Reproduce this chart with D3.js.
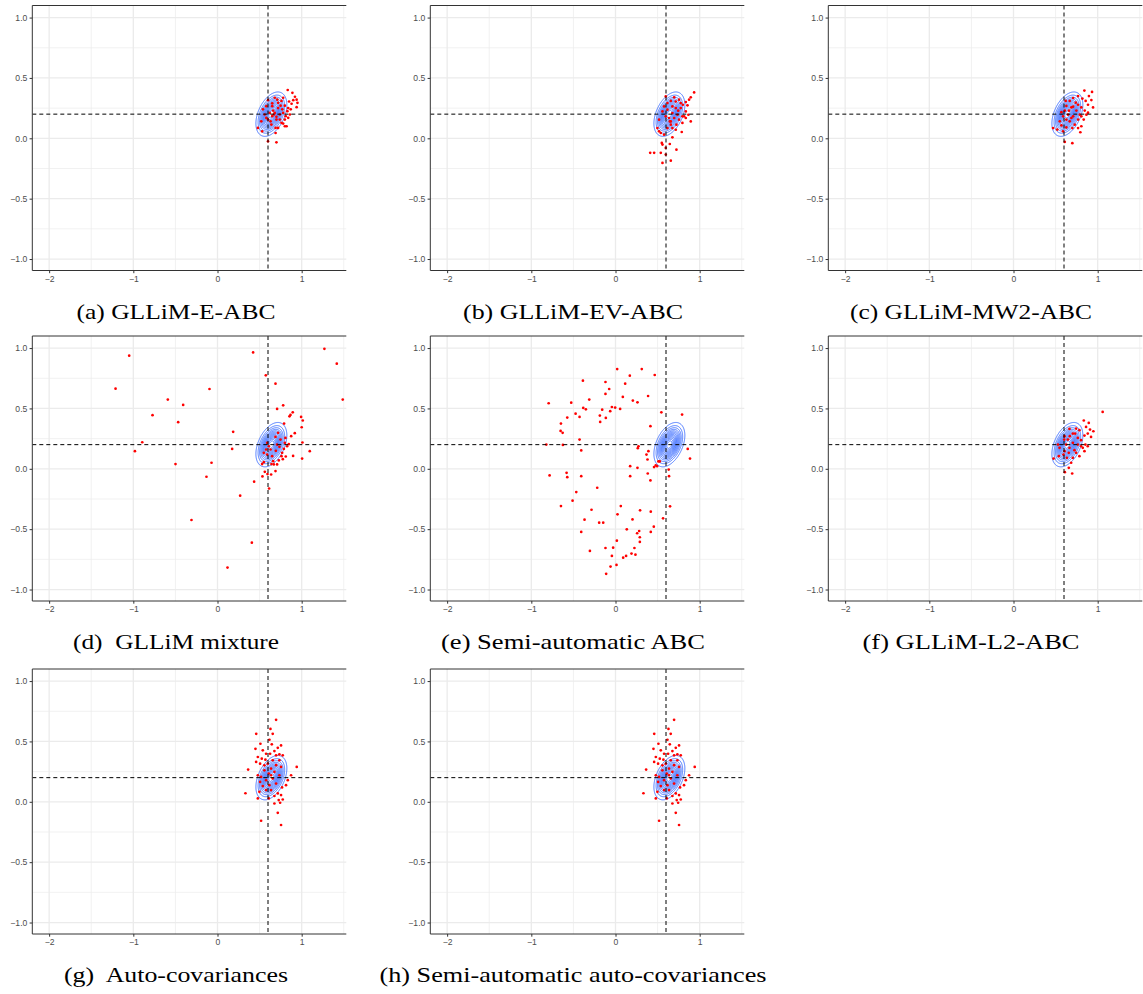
<!DOCTYPE html>
<html lang="en">
<head>
<meta charset="UTF-8">
<title>ABC posterior samples</title>
<script src="https://d3js.org/d3.v7.min.js"></script>
<style>
  body { margin: 0; background: #fff; }
  .tick text { font-family: "Liberation Sans", Arial, sans-serif; font-size: 8.6px; fill: #4d4d4d; }
  .tick line { stroke: #333; }
  .caption { font-family: "Liberation Serif", "Times New Roman", serif; font-size: 21px; fill: #000; white-space: pre; }
</style>
</head>
<body>
<div id="chart"></div>
<script>
// axis ranges and ticks
const xDomain = [-2.2, 1.53];
const yDomain = [-1.095, 1.1];
const xTicks = [-2, -1, 0, 1];
const xMinor = [-1.5, -0.5, 0.5, 1.5];
const yTicks = [-1, -0.5, 0, 0.5, 1];
const yMinor = [-0.75, -0.25, 0.25, 0.75];

// true parameter value (dashed lines)
const trueX = 0.6;
const trueY = 0.2;

// true posterior (gaussian) used for the blue contours
const postMean = [0.64, 0.2];
const postSd = [0.08, 0.08];
const postRho = 0.42;
const contourLevels = 13;

const captions = [
  "(a) GLLiM-E-ABC", "(b) GLLiM-EV-ABC", "(c) GLLiM-MW2-ABC",
  "(d)  GLLiM mixture", "(e) Semi-automatic ABC", "(f) GLLiM-L2-ABC",
  "(g)  Auto-covariances", "(h) Semi-automatic auto-covariances"
];

// accepted samples
const pointsA = [[0.834,0.40],[0.89,0.377],[0.92,0.344],[0.94,0.32],[0.90,0.316],[0.95,0.294],[0.88,0.286],[0.94,0.258],
  [0.85,0.305],[0.78,0.336],[0.68,0.336],[0.60,0.316],[0.72,0.294],[0.80,0.27],[0.77,0.24],[0.83,0.225],[0.86,0.197],
  [0.81,0.183],[0.80,0.155],[0.82,0.10],[0.76,0.128],[0.70,0.155],[0.72,0.086],[0.69,0.044],[0.69,0.086],[0.64,0.114],
  [0.60,0.155],[0.56,0.197],[0.54,0.24],[0.58,0.266],[0.65,0.266],[0.68,0.21],[0.74,0.197],[0.65,0.183],[0.63,0.141],
  [0.58,0.169],[0.52,0.141],[0.48,0.086],[0.53,0.058],[0.60,-0.025],[0.70,-0.033],[0.66,0.23],[0.72,0.25],[0.75,0.27],
  [0.84,0.25],[0.87,0.24],[0.78,0.21],[0.70,0.178],[0.67,0.197],[0.74,0.155],[0.78,0.122],[0.84,0.17],[0.62,0.21],
  [0.76,0.31],[0.71,0.32],[0.80,0.10],[0.65,0.29]];

const pointsB = [[0.934,0.38],[0.894,0.339],[0.874,0.32],[0.835,0.30],[0.855,0.273],[0.80,0.278],[0.755,0.32],[0.775,0.25],
  [0.835,0.223],[0.866,0.195],[0.815,0.182],[0.894,0.14],[0.795,0.127],[0.755,0.154],[0.724,0.113],[0.787,0.052],
  [0.716,0.071],[0.676,0.085],[0.657,0.14],[0.597,0.182],[0.558,0.223],[0.577,0.264],[0.617,0.292],[0.657,0.31],
  [0.697,0.339],[0.597,0.347],[0.716,0.25],[0.676,0.209],[0.736,0.195],[0.697,0.168],[0.637,0.168],[0.518,0.154],
  [0.498,0.085],[0.518,0.058],[0.538,0.044],[0.577,0.030],[0.676,0.008],[0.558,-0.052],[0.55,-0.038],[0.645,-0.047],
  [0.597,-0.08],[0.724,-0.094],[0.459,-0.12],[0.412,-0.12],[0.538,-0.12],[0.597,-0.135],[0.657,-0.185],[0.558,-0.204],
  [0.645,0.14],[0.676,0.264],[0.745,0.229],[0.617,0.237],[0.775,0.292],[0.716,0.305],[0.795,0.182],[0.657,0.113],
  [0.617,0.085],[0.835,0.168]];

const pointsC = [[0.842,0.395],[0.933,0.384],[0.896,0.35],[0.857,0.31],[0.925,0.317],[0.945,0.256],[0.885,0.278],
  [0.818,0.329],[0.767,0.35],[0.708,0.334],[0.668,0.31],[0.739,0.295],[0.806,0.256],[0.846,0.23],[0.866,0.196],
  [0.806,0.182],[0.747,0.23],[0.688,0.256],[0.628,0.268],[0.609,0.229],[0.648,0.196],[0.708,0.182],[0.767,0.155],
  [0.806,0.1],[0.727,0.113],[0.668,0.141],[0.628,0.155],[0.589,0.182],[0.55,0.141],[0.569,0.107],[0.628,0.09],
  [0.699,0.085],[0.767,0.085],[0.794,0.05],[0.609,-0.03],[0.699,-0.04],[0.47,0.085],[0.52,0.072],[0.589,0.058],
  [0.659,0.229],[0.708,0.262],[0.767,0.278],[0.62,0.31],[0.787,0.196],[0.834,0.155],[0.885,0.212],[0.688,0.168],
  [0.569,0.216]];

const pointsD = [[-1.049,0.937],[-1.211,0.664],[1.27,0.994],[1.417,0.871],[1.488,0.573],[0.423,0.964],[0.574,0.774],
  [0.689,0.705],[-0.095,0.661],[-0.59,0.573],[-0.408,0.529],[-0.772,0.444],[-0.467,0.386],[0.708,0.496],[0.78,0.526],
  [-0.894,0.22],[-0.981,0.146],[0.186,0.306],[0.174,0.165],[-0.499,0.039],[-0.071,0.05],[-0.131,-0.066],[0.435,-0.107],
  [0.534,-0.063],[0.613,-0.163],[0.269,-0.223],[-0.309,-0.424],[0.408,-0.612],[0.119,-0.818],[0.894,0.468],[0.867,0.446],
  [0.855,0.435],[0.993,0.43],[1.013,0.40],[1.0,0.344],[0.791,0.375],[0.918,0.295],[0.875,0.27],[1.009,0.218],
  [1.096,0.146],[1.005,0.085],[0.898,0.107],[0.811,0.102],[0.776,0.08],[0.728,0.069],[0.669,0.036],[0.708,0.036],
  [0.641,0.039],[0.562,-0.025],[0.689,-0.019],[0.637,-0.047],[0.594,-0.044],[0.53,0.039],[0.55,0.055],[0.693,0.149],
  [0.768,0.132],[0.827,0.187],[0.847,0.204],[0.807,0.256],[0.748,0.242],[0.72,0.298],[0.689,0.264],[0.59,0.215],
  [0.61,0.187],[0.578,0.16],[0.649,0.105],[0.59,0.118],[0.736,0.182],[0.788,0.165],[0.76,0.105],[0.661,0.063],
  [0.55,0.132],[0.63,0.16],[0.708,0.201],[0.8,0.215]];

const pointsE = [[-0.794,0.543],[-0.822,0.201],[-0.783,-0.055],[-0.648,0.375],[-0.652,0.314],[-0.628,0.298],[-0.625,0.198],
  [-0.648,-0.309],[-0.573,0.424],[-0.581,-0.033],[-0.573,-0.069],[-0.526,0.548],[-0.474,0.457],[-0.466,-0.193],
  [-0.51,-0.264],[-0.427,0.43],[-0.427,0.242],[-0.407,0.152],[-0.407,-0.061],[-0.407,-0.523],[-0.387,0.73],
  [-0.383,0.504],[-0.352,0.493],[-0.368,-0.421],[-0.312,0.573],[-0.304,-0.68],[-0.285,-0.339],[-0.217,-0.157],
  [-0.194,-0.446],[-0.186,0.441],[-0.182,0.388],[-0.158,0.49],[-0.146,-0.446],[-0.119,0.62],[-0.119,0.719],
  [-0.115,0.421],[-0.119,-0.656],[-0.111,-0.87],[-0.075,0.661],[-0.063,0.477],[-0.059,-0.81],[-0.043,0.512],
  [-0.043,-0.722],[-0.028,-0.653],[-0.004,0.507],[0.012,-0.796],[0.016,-0.595],[0.02,0.826],[0.024,-0.377],
  [0.055,0.496],[0.063,-0.309],[0.087,0.595],[0.091,-0.736],[0.115,0.705],[0.126,-0.722],[0.134,-0.501],[0.17,0.771],
  [0.174,0.022],[0.174,-0.061],[0.19,-0.702],[0.202,-0.419],[0.206,0.565],[0.225,-0.656],[0.237,-0.711],[0.261,0.551],
  [0.261,0.008],[0.257,-0.534],[0.265,0.171],[0.273,0.187],[0.281,-0.515],[0.289,-0.567],[0.289,-0.606],[0.292,-0.344],
  [0.312,0.826],[0.368,0.118],[0.38,0.077],[0.383,-0.039],[0.387,0.603],[0.391,0.146],[0.415,0.353],[0.415,-0.096],
  [0.419,-0.523],[0.419,-0.355],[0.455,-0.479],[0.466,0.777],[0.458,0.014],[0.478,0.028],[0.494,0.022],[0.51,0.061],
  [0.526,0.061],[0.545,0.468],[0.565,-0.41],[0.632,-0.006],[0.636,-0.061],[0.648,-0.311],[0.791,0.449],[0.858,0.165],
  [0.885,0.085]];

const pointsF = [[1.059,0.471],[0.835,0.40],[0.894,0.38],[0.862,0.347],[0.909,0.325],[0.949,0.311],[0.882,0.292],
  [0.921,0.264],[0.843,0.275],[0.783,0.32],[0.744,0.333],[0.665,0.33],[0.705,0.292],[0.764,0.256],[0.803,0.237],
  [0.854,0.201],[0.882,0.187],[0.823,0.174],[0.764,0.201],[0.705,0.215],[0.646,0.242],[0.606,0.27],[0.626,0.201],
  [0.665,0.174],[0.724,0.154],[0.783,0.105],[0.705,0.091],[0.685,0.05],[0.657,0.008],[0.61,-0.028],[0.697,-0.039],
  [0.657,0.132],[0.606,0.146],[0.547,0.174],[0.528,0.201],[0.476,0.085],[0.539,0.105],[0.594,0.118],[0.744,0.132],
  [0.803,0.187],[0.669,0.27],[0.732,0.292],[0.602,0.242],[0.843,0.146],[0.634,0.091]];

const pointsG = [[0.696,0.679],[0.629,0.604],[0.656,0.563],[0.46,0.563],[0.617,0.514],[0.645,0.476],[0.51,0.481],
  [0.755,0.467],[0.716,0.447],[0.451,0.439],[0.538,0.426],[0.676,0.42],[0.577,0.398],[0.735,0.393],[0.625,0.398],
  [0.696,0.385],[0.479,0.371],[0.526,0.357],[0.775,0.385],[0.459,0.33],[0.506,0.316],[0.569,0.349],[0.656,0.344],
  [0.735,0.344],[0.597,0.316],[0.696,0.303],[0.755,0.289],[0.636,0.275],[0.941,0.289],[0.364,0.267],[0.557,0.261],
  [0.676,0.248],[0.609,0.234],[0.479,0.22],[0.518,0.206],[0.735,0.22],[0.874,0.22],[0.835,0.179],[0.656,0.193],
  [0.577,0.179],[0.506,0.165],[0.696,0.151],[0.617,0.138],[0.538,0.13],[0.814,0.138],[0.767,0.119],[0.636,0.097],
  [0.577,0.097],[0.332,0.071],[0.498,0.083],[0.716,0.069],[0.676,0.048],[0.755,0.056],[0.609,0.028],[0.479,0.028],
  [0.727,0.014],[0.775,0.019],[0.744,-0.008],[0.676,-0.014],[0.716,-0.091],[0.518,-0.157],[0.755,-0.192],
  [0.636,0.22],[0.557,0.302]];

// (h) shows the same sample as (g)
const pointsH = pointsG;

const panelPoints = [pointsA, pointsB, pointsC, pointsD, pointsE, pointsF, pointsG, pointsH];

// layout
const W = 1143, H = 994;
const colLeft = [32.3, 430.3, 828.3];
const rowTop = [5.5, 336, 669];
const plotW = 314, plotH = 265;
const capX = [176, 573, 971];
const capDy = 48;
const capWidths = [199, 220, 242, 206, 264, 217, 224, 387];

const svg = d3.select("#chart").append("svg")
  .attr("width", W).attr("height", H);

const x = d3.scaleLinear().domain(xDomain).range([0, plotW]);
const y = d3.scaleLinear().domain(yDomain).range([plotH, 0]);

// density grid for the contours
const step = 0.004, gx0 = 0.2, gy0 = -0.25, n = 225, m = 225;
const dens = new Array(n * m);
const r2 = 1 - postRho * postRho;
for (let j = 0; j < m; j++) {
  for (let i = 0; i < n; i++) {
    const u = (gx0 + i * step - postMean[0]) / postSd[0];
    const v = (gy0 + j * step - postMean[1]) / postSd[1];
    dens[i + j * n] = Math.exp(-(u * u - 2 * postRho * u * v + v * v) / (2 * r2));
  }
}
const thresholds = d3.range(1, contourLevels + 1).map(k => k / (contourLevels + 1));
const contours = d3.contours().size([n, m]).thresholds(thresholds)(dens);
const contourPath = d3.geoPath(d3.geoTransform({
  point(px, py) {
    this.stream.point(x(gx0 + (px - 0.5) * step), y(gy0 + (py - 0.5) * step));
  }
}));

const fmtY = d => d3.format(".1f")(d).replace("-", "\u2212");
const fmtX = d => d3.format("d")(d).replace("-", "\u2212");

panelPoints.forEach((pts, k) => {
  const col = k % 3, row = Math.floor(k / 3);
  const g = svg.append("g")
    .attr("transform", `translate(${colLeft[col]},${rowTop[row]})`);

  g.append("clipPath").attr("id", "clip" + k)
    .append("rect").attr("width", plotW).attr("height", plotH);

  // grid
  const grid = g.append("g");
  grid.selectAll(".vmin").data(xMinor).enter().append("line")
    .attr("x1", d => x(d)).attr("x2", d => x(d)).attr("y1", 0).attr("y2", plotH)
    .attr("stroke", "#ebebeb").attr("stroke-width", 0.7);
  grid.selectAll(".hmin").data(yMinor).enter().append("line")
    .attr("x1", 0).attr("x2", plotW).attr("y1", d => y(d)).attr("y2", d => y(d))
    .attr("stroke", "#ebebeb").attr("stroke-width", 0.7);
  grid.selectAll(".vmaj").data(xTicks).enter().append("line")
    .attr("x1", d => x(d)).attr("x2", d => x(d)).attr("y1", 0).attr("y2", plotH)
    .attr("stroke", "#ebebeb").attr("stroke-width", 1.3);
  grid.selectAll(".hmaj").data(yTicks).enter().append("line")
    .attr("x1", 0).attr("x2", plotW).attr("y1", d => y(d)).attr("y2", d => y(d))
    .attr("stroke", "#ebebeb").attr("stroke-width", 1.3);

  const inner = g.append("g").attr("clip-path", `url(#clip${k})`);

  // posterior contours
  inner.selectAll(".contour").data(contours).enter().append("path")
    .attr("d", contourPath)
    .attr("fill", "none")
    .attr("stroke", "#3366ff")
    .attr("stroke-width", 0.9);

  // samples
  inner.selectAll(".pt").data(pts).enter().append("circle")
    .attr("cx", d => x(d[0])).attr("cy", d => y(d[1]))
    .attr("r", 1.35).attr("fill", "#ff0000");

  // true value
  inner.append("line")
    .attr("x1", x(trueX)).attr("x2", x(trueX)).attr("y1", 0).attr("y2", plotH)
    .attr("stroke", "#000").attr("stroke-width", 1).attr("stroke-dasharray", "4,3");
  inner.append("line")
    .attr("x1", 0).attr("x2", plotW).attr("y1", y(trueY)).attr("y2", y(trueY))
    .attr("stroke", "#000").attr("stroke-width", 1).attr("stroke-dasharray", "4,3");

  // axes
  const ax = g.append("g").attr("transform", `translate(0,${plotH})`)
    .call(d3.axisBottom(x).tickValues(xTicks).tickFormat(fmtX).tickSize(2.7).tickPadding(2.3));
  const ay = g.append("g")
    .call(d3.axisLeft(y).tickValues(yTicks).tickFormat(fmtY).tickSize(2.7).tickPadding(2.3));
  ax.select(".domain").remove();
  ay.select(".domain").remove();

  // border (right side is cropped in the original figure)
  g.append("path")
    .attr("d", `M${plotW},0H0V${plotH}H${plotW}`)
    .attr("fill", "none").attr("stroke", "#333").attr("stroke-width", 1);

  // caption
  svg.append("text").attr("class", "caption")
    .attr("x", capX[col]).attr("y", rowTop[row] + plotH + capDy)
    .attr("text-anchor", "middle")
    .attr("textLength", capWidths[k]).attr("lengthAdjust", "spacingAndGlyphs")
    .text(captions[k]);
});
</script>
</body>
</html>
